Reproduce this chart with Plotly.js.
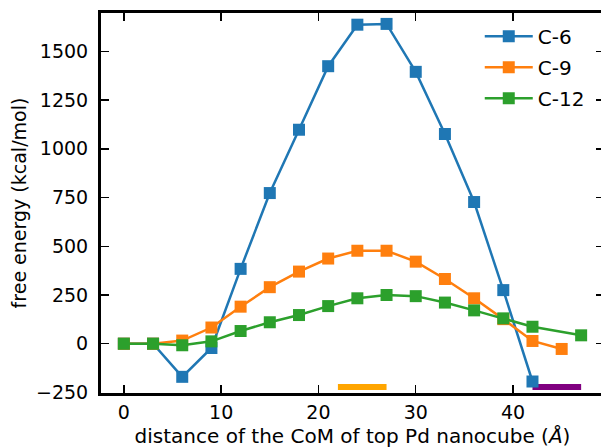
<!DOCTYPE html>
<html>
<head>
<meta charset="utf-8">
<script src="https://cdn.plot.ly/plotly-3.0.1.min.js"></script>
<style>
html, body { margin: 0; padding: 0; overflow: hidden; background: #fff; }
#chart { width: 606px; height: 448px; }
</style>
</head>
<body>
<div id="chart"></div>
<script>
// Data
var xC6  = [0, 3, 6, 9, 12, 15, 18, 21, 24, 27, 30, 33, 36, 39, 42];
var yC6  = [0, 0, -170, -22, 384, 773, 1098, 1424, 1637, 1641, 1395, 1076, 727, 275, -194];
var xC9  = [0, 3, 6, 9, 12, 15, 18, 21, 24, 27, 30, 33, 36, 39, 42, 45];
var yC9  = [0, 0, 16, 83, 190, 290, 370, 437, 477, 477, 421, 332, 233, 126, 14, -27];
var xC12 = [0, 3, 6, 9, 12, 15, 18, 21, 24, 27, 30, 33, 36, 39, 42, 47];
var yC12 = [0, 0, -8, 12, 65, 110, 147, 193, 233, 250, 244, 211, 171, 130, 87, 43];
var seriesNames = ["C-6", "C-9", "C-12"];
var band1X = [22, 27];
var band2X = [42, 47];
var bandY = -222;
var xTicks = [0, 10, 20, 30, 40];
var yTicks = [-250, 0, 250, 500, 750, 1000, 1250, 1500];

var colors = ["#1f77b4", "#ff7f0e", "#2ca02c"];
var font = "DejaVu Sans, sans-serif";

function series(x, y, name, color, group) {
  return {
    x: x, y: y, name: name, type: "scatter", mode: "lines+markers",
    line: {color: color, width: 2.5},
    marker: {symbol: "square", size: 12, color: color},
    legendgroup: group,
    cliponaxis: false
  };
}

var traces = [
  {x: band1X, y: [bandY, bandY], type: "scatter", mode: "lines",
   line: {color: "orange", width: 6}, showlegend: false, hoverinfo: "skip"},
  {x: band2X, y: [bandY, bandY], type: "scatter", mode: "lines",
   line: {color: "purple", width: 6}, showlegend: false, hoverinfo: "skip"},
  series(xC6, yC6, seriesNames[0], colors[0], "g1"),
  series(xC9, yC9, seriesNames[1], colors[1], "g2"),
  series(xC12, yC12, seriesNames[2], colors[2], "g3")
];

var axisCommon = {
  showgrid: false, zeroline: false,
  showline: true, linecolor: "#000", linewidth: 3,
  mirror: "ticks",
  ticks: "inside", ticklen: 8, tickwidth: 1.5, tickcolor: "#000",
  tickfont: {family: font, size: 19, color: "#000"}
};

var layout = {
  width: 606, height: 448,
  margin: {l: 101, r: 2, t: 13, b: 55},
  paper_bgcolor: "#fff", plot_bgcolor: "#fff",
  showlegend: true,
  xaxis: Object.assign({}, axisCommon, {
    range: [-2.35, 49.35],
    tickvals: xTicks,
    ticklabelstandoff: 0,
    title: {text: "distance of the CoM of top Pd nanocube (<i>Å</i>)",
            font: {family: font, size: 20, color: "#000"}, standoff: 10}
  }),
  yaxis: Object.assign({}, axisCommon, {
    range: [-253, 1697],
    tickvals: yTicks,
    ticklabelstandoff: 6,
    title: {text: "free energy (kcal/mol)",
            font: {family: font, size: 19, color: "#000"}, standoff: 5}
  }),
  legend: {
    x: 0.753, y: 0.99, xanchor: "left", yanchor: "top",
    bgcolor: "rgba(0,0,0,0)",
    itemwidth: 48,
    font: {family: font, size: 20, color: "#000"},
    traceorder: "grouped", tracegroupgap: 2
  }
};

Plotly.newPlot("chart", traces, layout, {displayModeBar: false, staticPlot: true});
</script>
</body>
</html>
